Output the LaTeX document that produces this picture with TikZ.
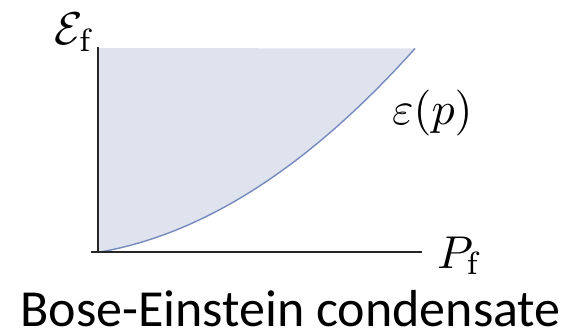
\documentclass[tikz,border=0pt]{standalone}
\usepackage{graphicx}
\usepackage{fontspec}
\setsansfont{Carlito}
\newcommand{\bigmath}[1]{\scalebox{4.6}{$#1$}}
\begin{document}
\begin{tikzpicture}[x=1pt,y=1pt,
  axis/.style={line width=2pt,draw=black!85},
  curvestyle/.style={line width=1.4pt,draw=curvecol},
  mathlbl/.style={inner sep=0pt},
]
\definecolor{fillcol}{RGB}{222,227,238}
\definecolor{curvecol}{RGB}{118,138,190}
\useasboundingbox (0,0) rectangle (567,332);
% fill region
\fill[fillcol] (98,80) -- plot[domain=0:315,samples=80] ({100+\x},{80+0.175*\x+0.0015*\x*\x}) -- (98,284) -- cycle;
% curve
\draw[curvestyle] plot[domain=0:315,samples=80] ({100+\x},{80+0.175*\x+0.0015*\x*\x});
% axes
\coordinate (vtop) at (98,285);
\coordinate (orig) at (98,80);
\coordinate (hleft) at (91,80);
\coordinate (hright) at (422,80);
\draw[axis] (orig) -- (vtop);
\draw[axis] (hleft) -- (hright);
% labels
\node[mathlbl,anchor=base east] (ef) at (93,287) {\bigmath{\mathcal{E}_{\mathrm{f}}}};
\node[mathlbl,anchor=base west] (pf) at (437,64) {\bigmath{P_{\mathrm{f}}}};
\node[mathlbl,anchor=base west] (eps) at (392,207) {\bigmath{\varepsilon(p)}};
\node[inner sep=0pt,text depth=0pt,anchor=base,font=\sffamily\fontsize{52}{56}\selectfont] (title) at (290.5,6) {Bose-Einstein condensate};
\end{tikzpicture}
\end{document}
